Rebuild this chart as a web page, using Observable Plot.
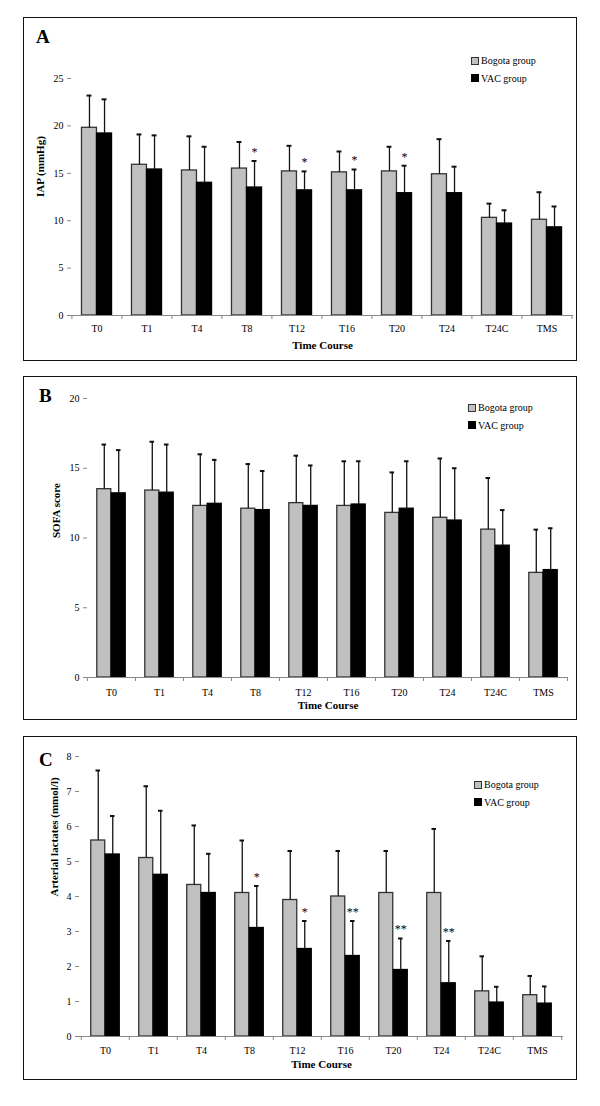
<!DOCTYPE html>
<html><head><meta charset="utf-8">
<script src="https://cdn.jsdelivr.net/npm/d3@7"></script>
<script src="https://cdn.jsdelivr.net/npm/@observablehq/plot@0.6"></script>
<style>
body{margin:0;background:#fff;font-family:"Liberation Serif","Times New Roman",serif;}
#page{position:relative;width:600px;height:1106px;background:#fff;}
.box{position:absolute;left:23px;width:554px;height:344px;border:1.6px solid #111;box-sizing:border-box;}
.panel{position:absolute;left:23px;}
.letter{position:absolute;font-weight:bold;font-size:19px;line-height:1;}
.legend{position:absolute;font-size:10px;line-height:17.5px;color:#000;white-space:nowrap;}
.sw{display:inline-block;width:6px;height:6px;margin-right:2px;border:1px solid #333;vertical-align:-0.5px;}
</style></head>
<body><div id="page"></div>
<script>
// ---------- data ----------
const times = ["T0","T1","T4","T8","T12","T16","T20","T24","T24C","TMS"];
const groups = ["Bogota group","VAC group"];

const iapBogota   = [19.8,15.9,15.3,15.5,15.2,15.1,15.2,14.9,10.3,10.1];
const iapBogotaSD = [3.4,3.2,3.6,2.8,2.7,2.2,2.6,3.7,1.5,2.9];
const iapVac      = [19.2,15.4,14.0,13.5,13.2,13.2,12.9,12.9,9.7,9.3];
const iapVacSD    = [3.6,3.6,3.8,2.8,2.0,2.2,2.9,2.8,1.4,2.2];
const iapStars    = ["","","","*","*","*","*","","",""];
const iapTicks    = [0,5,10,15,20,25];

const sofaBogota   = [13.5,13.4,12.3,12.1,12.5,12.3,11.8,11.45,10.6,7.5];
const sofaBogotaSD = [3.2,3.5,3.7,3.2,3.4,3.2,2.9,4.25,3.7,3.1];
const sofaVac      = [13.2,13.25,12.45,12.0,12.3,12.4,12.1,11.25,9.45,7.7];
const sofaVacSD    = [3.1,3.45,3.15,2.8,2.9,3.1,3.4,3.75,2.55,3.0];
const sofaStars    = ["","","","","","","","","",""];
const sofaTicks    = [0,5,10,15,20];

const lactBogota   = [5.6,5.1,4.33,4.1,3.9,4.0,4.1,4.1,1.29,1.18];
const lactBogotaSD = [2.0,2.05,1.7,1.5,1.4,1.3,1.2,1.83,1.0,0.55];
const lactVac      = [5.2,4.62,4.1,3.1,2.5,2.3,1.9,1.52,0.97,0.94];
const lactVacSD    = [1.1,1.83,1.12,1.2,0.8,1.0,0.9,1.21,0.45,0.49];
const lactStars    = ["","","","*","*","**","**","**","",""];
const lactTicks    = [0,1,2,3,4,5,6,7,8];

// ---------- drawing ----------
const page = document.getElementById("page");
const W = 554, H = 344;

function drawPanel(cfg) {
  const {top, letter, letterPos, legendPos, ml, mr, mt, mb, ymax, ticks, ylabel, ylabelDx,
         bog, bogSD, vac, vacSD, stars, catPad, xlabelDy} = cfg;
  const rows = times.map((t, i) => ({time: t, bog: bog[i], bogSD: bogSD[i], vac: vac[i], vacSD: vacSD[i], star: stars[i]}));
  const pad = 0.7;
  const step = (W - ml - mr) / times.length;
  const bw = step * (1 - pad);
  const errW = 1.3, capInset = (bw - 5) / 2;

  const svg = Plot.plot({
    width: W, height: H,
    marginLeft: ml, marginRight: mr, marginTop: mt, marginBottom: mb,
    style: {fontFamily: '"Liberation Serif","Times New Roman",serif', color: "#000", background: "transparent", overflow: "visible"},
    x: {domain: times, paddingInner: pad, paddingOuter: pad / 2, align: 0.5},
    y: {domain: [0, ymax]},
    marks: [
      Plot.barY(rows, {x: "time", y: "bog", fill: "#c0c0c0", stroke: "#333", strokeWidth: 1.3, dx: -bw / 2}),
      Plot.barY(rows, {x: "time", y: "vac", fill: "#000", stroke: "#000", strokeWidth: 1.3, dx: bw / 2}),
      Plot.ruleX(rows, {x: "time", y1: "bog", y2: d => d.bog + d.bogSD, dx: -bw / 2, stroke: "#111", strokeWidth: errW}),
      Plot.ruleX(rows, {x: "time", y1: "vac", y2: d => d.vac + d.vacSD, dx: bw / 2, stroke: "#111", strokeWidth: errW}),
      Plot.tickY(rows, {x: "time", y: d => d.bog + d.bogSD, dx: -bw / 2, insetLeft: capInset, insetRight: capInset, stroke: "#111", strokeWidth: 2}),
      Plot.tickY(rows, {x: "time", y: d => d.vac + d.vacSD, dx: bw / 2, insetLeft: capInset, insetRight: capInset, stroke: "#111", strokeWidth: 2}),
      Plot.text(rows.filter(d => d.star), {x: "time", y: d => d.vac + d.vacSD, text: "star", dx: bw / 2, dy: -9, fontSize: 12, fill: "black"}),
      Plot.ruleY([0], {stroke: "#888", strokeWidth: 1.2}),
      Plot.axisY({ticks, tickSize: 4, tickPadding: 4, stroke: "#888", line: true, fontSize: 10, label: null}),
      Plot.axisX({tickSize: 0, tickPadding: catPad, fontSize: 10, label: null}),
      Plot.axisX({tickSize: 4, tickFormat: () => "", dx: -step / 2, stroke: "#888", label: null}),
      Plot.axisX({ticks: [times[times.length - 1]], tickSize: 4, tickFormat: () => "", dx: step / 2, stroke: "#888", label: null}),
      Plot.text([ylabel], {frameAnchor: "left", text: d => d, rotate: -90, dx: ylabelDx, fontSize: 11, fontWeight: "bold"}),
      Plot.text(["Time Course"], {frameAnchor: "bottom", text: d => d, dy: xlabelDy, fontSize: 11, fontWeight: "bold"})
    ]
  });

  const box = document.createElement("div");
  box.className = "box"; box.style.top = top + "px";
  page.appendChild(box);
  svg.classList.add("panel");
  svg.style.top = top + "px";
  page.appendChild(svg);

  const L = document.createElement("div");
  L.className = "letter"; L.textContent = letter;
  L.style.left = letterPos[0] + "px"; L.style.top = letterPos[1] + "px";
  page.appendChild(L);

  const leg = document.createElement("div");
  leg.className = "legend";
  leg.style.left = legendPos[0] + "px"; leg.style.top = legendPos[1] + "px";
  leg.innerHTML = `<div><span class="sw" style="background:#c0c0c0"></span>${groups[0]}</div>` +
                  `<div><span class="sw" style="background:#000;border-color:#000"></span>${groups[1]}</div>`;
  page.appendChild(leg);
}

drawPanel({top: 17, letter: "A", letterPos: [36, 27], legendPos: [471, 52],
  ml: 48, mr: 4, mt: 61, mb: 46, ymax: 25, ticks: iapTicks, ylabel: "IAP (mmHg)", ylabelDx: -31,
  bog: iapBogota, bogSD: iapBogotaSD, vac: iapVac, vacSD: iapVacSD, stars: iapStars, catPad: 9, xlabelDy: 33});

drawPanel({top: 376, letter: "B", letterPos: [39, 386], legendPos: [468, 399],
  ml: 64, mr: 9, mt: 22, mb: 43, ymax: 20, ticks: sofaTicks, ylabel: "SOFA score", ylabelDx: -31,
  bog: sofaBogota, bogSD: sofaBogotaSD, vac: sofaVac, vacSD: sofaVacSD, stars: sofaStars, catPad: 11, xlabelDy: 31});

drawPanel({top: 736, letter: "C", letterPos: [39, 750], legendPos: [474, 776],
  ml: 56, mr: 14, mt: 20, mb: 44, ymax: 8, ticks: lactTicks, ylabel: "Arterial lactates (mmol/l)", ylabelDx: -25,
  bog: lactBogota, bogSD: lactBogotaSD, vac: lactVac, vacSD: lactVacSD, stars: lactStars, catPad: 10, xlabelDy: 31});
</script>
</body></html>
